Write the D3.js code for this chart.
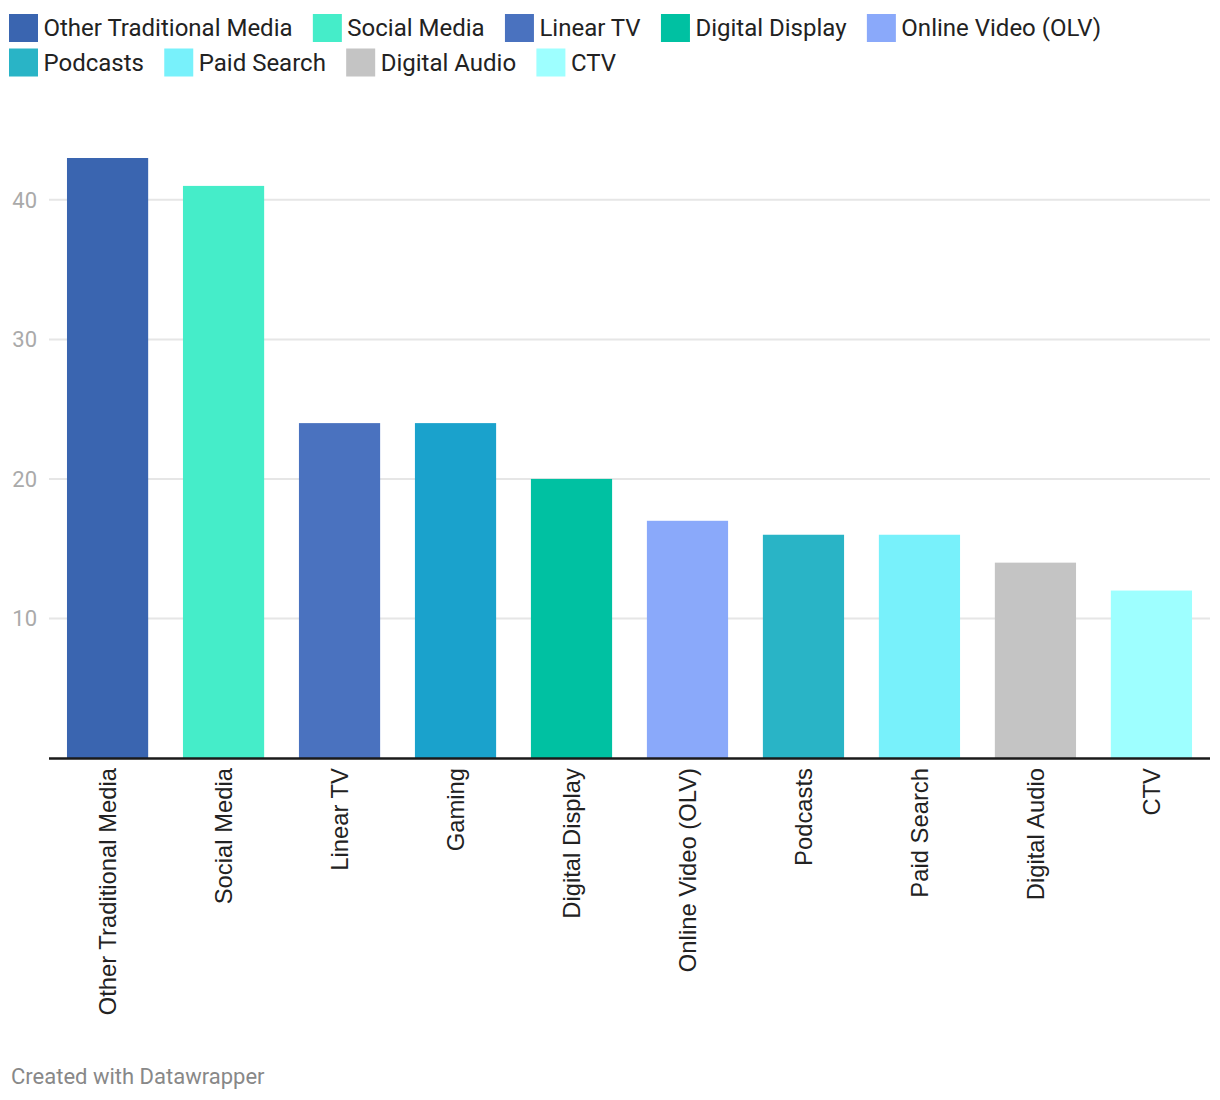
<!DOCTYPE html>
<html><head><meta charset="utf-8">
<script src="https://cdn.jsdelivr.net/npm/d3@7/dist/d3.min.js"></script>
<style>body{margin:0;background:#fff;} svg{display:block;}</style>
</head><body>
<svg id="c" width="1220" height="1100"></svg>
<script>
const categories = ["Other Traditional Media","Social Media","Linear TV","Gaming","Digital Display","Online Video (OLV)","Podcasts","Paid Search","Digital Audio","CTV"];
const values = [43, 41, 24, 24, 20, 17, 16, 16, 14, 12];
const colors = ["#3a65b0","#45edc9","#4a72bf","#1aa2cc","#00c1a2","#8aa9fa","#29b4c6","#78f1fb","#c4c4c4","#9effff"];
const legendItems = ["Other Traditional Media","Social Media","Linear TV","Digital Display","Online Video (OLV)","Podcasts","Paid Search","Digital Audio","CTV"];
const yTicks = [10, 20, 30, 40];

const svg = d3.select("#c");
const x = d3.scaleBand().domain(categories).range([49, 1210]).paddingInner(0.3).paddingOuter(0.155);
const y = d3.scaleLinear().domain([0, 43]).range([758, 158]);
const colorOf = d3.scaleOrdinal().domain(categories).range(colors);

// grid
svg.append("g").selectAll("line").data(yTicks).join("line")
  .attr("x1", 49).attr("x2", 1210)
  .attr("y1", d => y(d)).attr("y2", d => y(d))
  .attr("stroke", "#e6e6e6").attr("stroke-width", 2);
svg.append("g").selectAll("text").data(yTicks).join("text")
  .attr("x", 37).attr("y", d => y(d)).attr("dy", "0.36em")
  .attr("text-anchor", "end")
  .attr("font-family", "Roboto").attr("font-size", 22).attr("fill", "#aaaaaa")
  .text(d => d);

// bars
svg.append("g").selectAll("rect").data(categories).join("rect")
  .attr("x", d => x(d)).attr("width", x.bandwidth())
  .attr("y", (d, i) => y(values[i])).attr("height", (d, i) => y(0) - y(values[i]))
  .attr("fill", d => colorOf(d));

// baseline
svg.append("line").attr("x1", 49).attr("x2", 1210).attr("y1", y(0)+0.5).attr("y2", y(0)+0.5)
  .attr("stroke", "#1a1a1a").attr("stroke-width", 2.5);

// x labels
const xAxis = d3.axisBottom(x).tickSize(0);
const gx = svg.append("g").attr("transform", `translate(0,${y(0)})`).call(xAxis);
gx.select(".domain").remove();
gx.selectAll("text")
  .attr("font-family", "Liberation Sans, Arial, sans-serif").attr("font-size", 23.8).attr("fill", "#222")
  .attr("transform", "rotate(-90)")
  .attr("text-anchor", "end")
  .attr("x", -10).attr("y", 0).attr("dy", "0.36em");

// legend
const leg = svg.append("g");
const rows = [legendItems.slice(0,5), legendItems.slice(5)];
rows.forEach((row, ri) => {
  let cx = 9;
  const top = 14 + ri * 34.5;
  row.forEach(name => {
    leg.append("rect").attr("x", cx).attr("y", top).attr("width", 29).attr("height", 28).attr("fill", colorOf(name));
    const t = leg.append("text").attr("x", cx + 34.5).attr("y", top + 22)
      .attr("font-family", "Roboto").attr("font-size", 24).attr("fill", "#222").text(name);
    cx += 34.5 + t.node().getComputedTextLength() + 20.3;
  });
});

svg.append("text").attr("x", 11).attr("y", 1084)
  .attr("font-family", "Roboto").attr("font-size", 22).attr("fill", "#888")
  .text("Created with Datawrapper");
</script>
</body></html>
